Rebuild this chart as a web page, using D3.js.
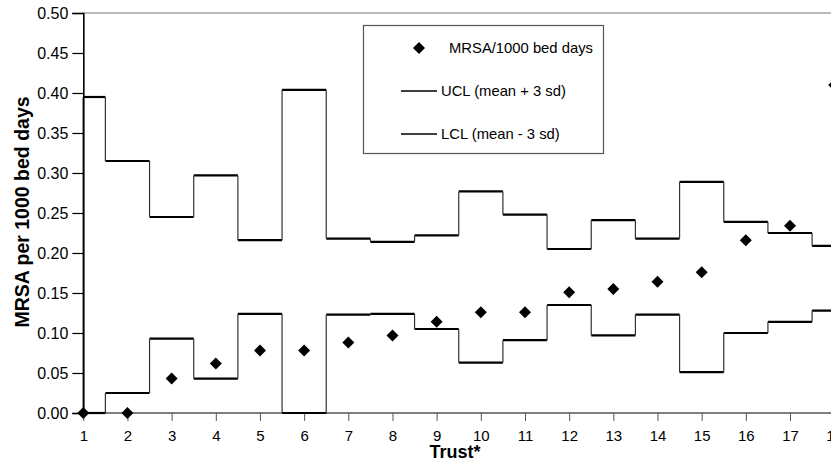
<!DOCTYPE html>
<html>
<head>
<meta charset="utf-8">
<script src="https://cdn.jsdelivr.net/npm/d3@7"></script>
<style>
  body { margin: 0; background: #fff; }
  svg { display: block; font-family: "Liberation Sans", Arial, sans-serif; }
</style>
</head>
<body>
<div id="chart"></div>
<script>
// Données
const trusts = [1, 2, 3, 4, 5, 6, 7, 8, 9, 10, 11, 12, 13, 14, 15, 16, 17, 18];
const mrsaRate = [0, 0, 0.043, 0.062, 0.078, 0.078, 0.088, 0.097, 0.114, 0.126, 0.126, 0.151, 0.155, 0.164, 0.176, 0.216, 0.234, 0.41];
const ucl = [0.395, 0.315, 0.245, 0.297, 0.216, 0.404, 0.218, 0.214, 0.222, 0.277, 0.248, 0.205, 0.241, 0.218, 0.289, 0.239, 0.225, 0.209];
const lcl = [0, 0.025, 0.093, 0.043, 0.124, 0, 0.123, 0.124, 0.105, 0.063, 0.091, 0.135, 0.097, 0.123, 0.051, 0.1, 0.114, 0.128];
const yTicks = [0, 0.05, 0.1, 0.15, 0.2, 0.25, 0.3, 0.35, 0.4, 0.45, 0.5];
const legendItems = ['MRSA/1000 bed days', 'UCL (mean + 3 sd)', 'LCL (mean - 3 sd)'];

const width = 831;
const height = 461;

const svg = d3.select('#chart')
    .append('svg')
    .attr('width', width)
    .attr('height', height);

// Échelles
const x = d3.scaleLinear().domain([1, 17]).range([83.3, 790]);
const y = d3.scaleLinear().domain([0, 0.5]).range([413, 13]);

// Bordure supérieure
svg.append('line')
    .attr('x1', x(1)).attr('x2', width)
    .attr('y1', y(0.5)).attr('y2', y(0.5))
    .attr('stroke', '#777').attr('stroke-width', 1.2);

// Axe Y
const yAxis = svg.append('g')
    .attr('transform', `translate(${x(1)},0)`)
    .call(d3.axisLeft(y).tickValues(yTicks).tickFormat(d3.format('.2f')).tickSize(11).tickPadding(4));
yAxis.select('.domain').attr('stroke', '#000').attr('stroke-width', 1.6);
yAxis.selectAll('.tick line').attr('stroke', '#000').attr('stroke-width', 1.2);
yAxis.selectAll('.tick text').attr('font-size', 16).attr('fill', '#000');

// Axe X
const xAxis = svg.append('g')
    .attr('transform', `translate(0,${y(0)})`)
    .call(d3.axisBottom(x).tickValues(trusts).tickFormat(d3.format('d')).tickSize(8).tickPadding(9));
xAxis.select('.domain').attr('stroke', '#000').attr('stroke-width', 1.2).attr('d', `M${x(1)},0H${width}`);
xAxis.selectAll('.tick line').attr('stroke', '#555').attr('stroke-width', 1);
xAxis.selectAll('.tick text').attr('font-size', 15).attr('fill', '#000');

// Lignes en escalier (UCL et LCL)
function drawSteps(values) {
    const g = svg.append('g');
    const segs = values.map((v, i) => ({
        x0: i === 0 ? trusts[i] : trusts[i] - 0.5,
        x1: trusts[i] + 0.5,
        v: v
    }));
    g.selectAll('line.h')
        .data(segs)
        .enter()
        .append('line')
        .attr('class', 'h')
        .attr('x1', d => x(d.x0)).attr('x2', d => x(d.x1))
        .attr('y1', d => y(d.v)).attr('y2', d => y(d.v))
        .attr('stroke', '#000').attr('stroke-width', 2.2);
    g.selectAll('line.v')
        .data(segs.slice(1))
        .enter()
        .append('line')
        .attr('class', 'v')
        .attr('x1', d => x(d.x0)).attr('x2', d => x(d.x0))
        .attr('y1', (d, i) => y(segs[i].v)).attr('y2', d => y(d.v))
        .attr('stroke', '#333').attr('stroke-width', 1.2);
    // Montée initiale depuis l'axe
    g.append('line')
        .attr('x1', x(1)).attr('x2', x(1))
        .attr('y1', y(0)).attr('y2', y(values[0]))
        .attr('stroke', '#000').attr('stroke-width', 1.4);
}
drawSteps(ucl);
drawSteps(lcl);

// Points (losanges)
const diamond = d3.symbol().type(d3.symbolSquare).size(72);
svg.append('g')
    .selectAll('path')
    .data(trusts.map((t, i) => ({ t, v: mrsaRate[i] })))
    .enter()
    .append('path')
    .attr('d', diamond)
    .attr('transform', d => `translate(${x(d.t)},${y(d.v)}) rotate(45)`)
    .attr('fill', '#000');

// Légende
const legend = svg.append('g');
legend.append('rect')
    .attr('x', 363.5).attr('y', 25.5)
    .attr('width', 240).attr('height', 128)
    .attr('fill', '#fff').attr('stroke', '#555').attr('stroke-width', 1.2);
const rowsY = [48, 91, 134];
legend.append('path')
    .attr('d', diamond)
    .attr('transform', `translate(419,${rowsY[0]}) rotate(45)`)
    .attr('fill', '#000');
[1, 2].forEach(i => {
    legend.append('line')
        .attr('x1', 401).attr('x2', 437)
        .attr('y1', rowsY[i]).attr('y2', rowsY[i])
        .attr('stroke', '#000').attr('stroke-width', 1.6);
});
legend.selectAll('text')
    .data(legendItems)
    .enter()
    .append('text')
    .attr('x', (d, i) => i === 0 ? 449 : 441)
    .attr('y', (d, i) => rowsY[i])
    .attr('dy', '0.35em')
    .attr('font-size', 14.8)
    .text(d => d);

// Titres des axes
svg.append('text')
    .attr('x', 455).attr('y', 458)
    .attr('text-anchor', 'middle')
    .attr('font-size', 18).attr('font-weight', 'bold')
    .text('Trust*');
svg.append('text')
    .attr('transform', 'translate(29,212) rotate(-90)')
    .attr('text-anchor', 'middle')
    .attr('font-size', 19.5).attr('font-weight', 'bold')
    .text('MRSA per 1000 bed days');
</script>
</body>
</html>
